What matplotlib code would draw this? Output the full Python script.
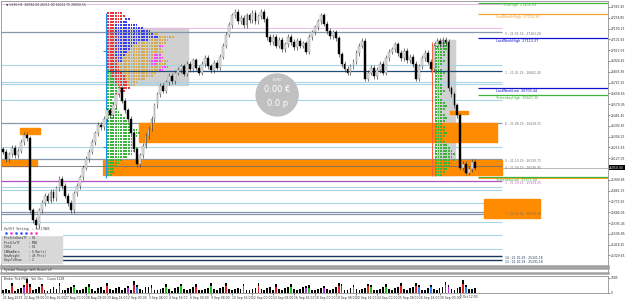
import numpy as np
import matplotlib.pyplot as plt
from matplotlib.patches import Rectangle, Ellipse

# US30 H4 closes, 21 Aug - 2 Oct 2019
first_open = 26200
closes = [
    26180, 26120, 26160, 26210, 26150, 26190, 26260, 26320, 26290, 25700,
    25620, 25580, 25700, 25760, 25820, 25780, 25850, 25800, 25880, 25960,
    25900, 25820, 25760, 25700, 25840, 25900, 25970, 26050, 26120, 26180,
    26260, 26330, 26400, 26380, 26450, 26520, 26480, 26560, 26650, 26700,
    26600, 26520, 26450, 26330, 26200, 26080, 26150, 26230, 26310, 26370,
    26450, 26560, 26650, 26720, 26680, 26750, 26800, 26760, 26830, 26850,
    26880, 26820, 26900, 26860, 26930, 26870, 26830, 26900, 26950, 26880,
    26850, 26910, 26870, 26960, 27050, 27140, 27220, 27300, 27330, 27250,
    27280, 27220, 27300, 27260, 27320, 27250, 27290, 27330, 27270, 27120,
    27080, 27120, 27050, 27100, 27020, 27060, 27120, 27080, 27040, 27090,
    27050, 27070, 27000, 27120, 27160, 27200, 27250, 27300, 27230, 27170,
    27130, 27160, 27110, 26980, 26900, 26860, 26830, 26880, 26920, 26990,
    27050, 27090, 26780, 26830, 26870, 26800, 26850, 26900, 26830, 26950,
    27000, 27020, 27060, 26990, 26950, 27010, 26930, 26960, 26900, 26780,
    26880, 26950, 26990, 26920, 26860, 27050, 27090, 27060, 27100, 27080,
    26700, 26650, 26560, 26480, 26050, 26080, 26010, 26040, 26100, 26050,
]

volumes = [
    350, 500, 300, 1100, 250, 420, 600, 900, 1550, 1000,
    300, 450, 700, 1050, 380, 260, 500, 650, 420, 1150,
    320, 280, 550, 700, 950, 350, 300, 480, 640, 1000,
    400, 250, 560, 720, 380, 1100, 420, 300, 520, 680,
    350, 600, 750, 300, 1300, 900, 450, 280, 620, 700,
    850, 380, 300, 450, 600, 1000, 420, 270, 560, 650,
    1050, 400, 320, 500, 620, 1000, 380, 290, 470, 580,
    1100, 420, 300, 520, 640, 1080, 400, 280, 500, 610,
    480, 1050, 360, 300, 450, 600, 1100, 430, 290, 520,
    620, 380, 1000, 420, 300, 540, 660, 980, 400, 280,
    500, 620, 800, 850, 360, 290, 480, 600, 750, 420,
    310, 500, 640, 1100, 1050, 380, 300, 520, 950, 430,
    290, 480, 600, 1050, 900, 350, 280, 500, 620, 1000,
    400, 300, 520, 680, 1100, 420, 310, 560, 700, 1150,
    950, 380, 320, 540, 900, 450, 300, 560, 700, 1200,
    900, 420, 330, 560, 720, 1500, 950, 420, 500, 560,
]
vol_color_idx = [3, 7, 8, 9, 13, 19, 24, 29, 35, 42, 44, 45, 50, 55, 60, 65, 70, 75,
                 81, 86, 92, 97, 102, 103, 108, 113, 114, 118, 123, 124, 129, 134,
                 139, 140, 144, 149, 150, 155, 156]
vol_color_code = "rmrrrrggrmrbmggrgrgrrgmgmrrgrggrrbbrmrb"

# tick at 26038.45 sits under the current-price box, so it is not shown
price_ticks = [27367.45, 27278.85, 27190.25, 27101.65, 27013.05, 26924.45, 26835.85,
               26747.25, 26658.65, 26570.05, 26481.45, 26392.85, 26304.25, 26215.65,
               26127.05, 25949.85, 25861.25, 25772.65, 25684.05, 25595.45,
               25506.85, 25418.25, 25329.65]
time_labels = ["21 Aug 2019", "22 Aug 08:00", "23 Aug 16:00", "27 Aug 00:00", "28 Aug 08:00",
               "29 Aug 16:00", "2 Sep 00:00", "3 Sep 08:00", "4 Sep 16:00", "6 Sep 00:00",
               "9 Sep 08:00", "10 Sep 16:00", "12 Sep 00:00", "13 Sep 08:00", "16 Sep 16:00",
               "18 Sep 00:00", "19 Sep 08:00", "20 Sep 16:00", "24 Sep 00:00", "25 Sep 08:00",
               "26 Sep 16:00", "30 Sep 00:00", "2 Oct 12:00"]

# key levels
key_names = ["YearHigh", "LastMonthHigh", "LastWeekHigh", "LastWeekLow", "YesterdayHigh", "YesterdayLow"]
key_values = [27404.09, 27310.26, 27113.37, 26703.44, 26647.35, 25971.68]
key_colors = ["#3cb43c", "#f0a030", "#1010d0", "#1010d0", "#3cb43c", "#3cb43c"]

lightblue_levels = [26892, 26752, 26736, 26605, 26219, 25891, 25867, 25760, 25604, 25498, 25383]
steel_levels = [27162, 26420, 26121, 25686, 25670]
navy_levels = [25325, 25293]
zone_labels = ["3 : 21.05.19 : 27163.28", "1 : 21.01.19 : 26842.40", "6 : 21.08.19 : 26418.33",
               "5 : 21.10.19 : 26130.72", "4 : 21.09.19 : 26096.85", "2 : 21.09.19 : 25929.05",
               "7 : 21.10.19 : 25678.45", "14 : 21.10.19 : 25321.18", "13 : 21.10.19 : 25291.18"]
zone_prices = [27162, 26842, 26420, 26121, 26063, 25940, 25680, 25325, 25290]
zone_colors = ["#707070", "#707070", "#707070", "#707070", "#707070", "#c060c0", "#707070",
               "#17375e", "#17375e"]

# supply / demand boxes: (x0, x1, low, high)
box_x0 = [5.7, -0.7, 45.8, 33.7, 150.5, 162.0]
box_x1 = [12.5, 11.4, 166.3, 168.0, 156.6, 180.8]
box_lo = [26326, 26063, 26260, 25990, 26490, 25637]
box_hi = [26375, 26113, 26416, 26113, 26514, 25793]

# TPO market profile rows (top row first), letters coloured by period
tpo_left = [
    "rrrrrr", "rrrrrrr", "rrrrrr.bb", "rrrrrbbb", "rrrbbbbbbbbb", "rrrbbbbbbbbbbb",
    "rrrbbbbbbbbbbbbbb", "rrrbbbbbbbbbbbbbbbyy", "rrrrbbbbbbbbbbbbbbbbyyyyyy",
    "rrrbbbbbbbbbbbbbyyyyyyyy", "rrrrbbbbbbbbyyyyyyyyyyy", "rrrbbbbbbbyyyyyyyyyymm",
    "rrrrbbbbbyyyyyyyyyyyy", "rrrbbbbbyyyyyyyyyyyyyy", "rrrbbbbyyyyyyyyyyymmm",
    "rrrrbbyyyyyyyyyyyymmmm", "rrrrbbyyyyyyyyyymmmmmyyy", "rrrryyyyyyyyyyyyymmyyyy",
    "rrrrryyyyyyyyyyyyyyyymmm", "grrrryyyyyyyyyyyyyyymm", "ggrrrryyyyyyyyyyyyy",
    "ggrrrrryyyyyyyyyyy", "gggrrrryyyyyyyy", "gggrrrrryyyy", "ggggrrrryyy", "gggggrrrr",
    "ggggrrr", "gggrr", "ggg", "gg", "ggg", "ggg", "gggg", "ggggg", "gggggg", "ggggggg",
    "gggggggg", "ggggggggg", "gggggggggg", "gggggggggggg", "ggggggggggggg",
    "gggggggggggg", "ggggggggggg", "gggggggggg", "ggggggggggg", "gggggggggggg",
    "ggggggggggg", "gggggggggg", "gggggggg", "gggggg", "ggggg", "gggg", "ggg", "ggg", "gg",
]
tpo_right = [
    "gggggg", "gggggg", "ggggg", "gggg", "gggg",
    "ggg", "gggg", "ggg", "gg", "ggg", "gggg", "ggg", "ggg", "gg", "ggg", "ggg", "gggg",
    "ggg", "gg", "ggg",
    "gggg", "ggggg", "gggg", "ggg", "gggg", "ggggg", "gggg", "ggg", "gggg", "gggg",
    "ggggg", "gggg", "ggg", "gggg", "ggggg",
    "gggggg", "ggggggg", "gggggggg", "ggggggg", "gggggggg", "ggggggg", "gggggg",
    "ggggg", "gggg", "ggg",
]
tpo_colors = {"r": "#e8373a", "b": "#3c3cf0", "y": "#d4aa50", "m": "#ff40ff", "g": "#3cb43c"}

info_rows = ["ProfileDataTF : H1", "ProfileTF     : MN1", "ISO4          : D1",
             "IBNumBars     : 6 Bar(s)", "RowHeight     : 45 Pt(s)", "DaysToShow    : 2"]

# ---------------------------------------------------------------
W, H = 625, 301
fig = plt.figure(figsize=(W / 100, H / 100), dpi=100)
fig.patch.set_facecolor("white")
XLIM = (-0.673, 203.7)
YLIM = (25243.4, 27416.4)
FS = 2.2

ax = fig.add_axes([1 / W, 35 / H, 607 / W, 265 / H])
ax_mid = fig.add_axes([1 / W, 28 / H, 607 / W, 5 / H])
ax_vol = fig.add_axes([1 / W, 8 / H, 607 / W, 17 / H])
for a in (ax, ax_mid, ax_vol):
    a.set_xlim(*XLIM)
    for s in a.spines.values():
        s.set_color("#909090")
        s.set_linewidth(0.6)
    a.set_xticks([])
ax.set_ylim(*YLIM)

# gray value-area shades
ax.add_patch(Rectangle((35.0, 26728), 27.3, 467, color="#d0d0d0", zorder=1))
ax.add_patch(Rectangle((146.1, 25990), 6.1, 1107, color="#d0d0d0", zorder=1))

# horizontal zone lines
ax.hlines(lightblue_levels, XLIM[0], 168, color="#a8d4e6", lw=0.8, zorder=2)
ax.hlines(steel_levels, XLIM[0], 168, color="#8597ad", lw=0.9, zorder=2)
ax.hlines(navy_levels, XLIM[0], 168, color="#17375e", lw=1.0, zorder=2)
ax.hlines(27392, XLIM[0], 168, color="#e8b8e8", lw=0.7, zorder=2)
ax.hlines(27195, 44.4, 168, color="#e8b8e8", lw=0.7, zorder=2)
ax.hlines(26842, 35.0, 168, color="#1f4e79", lw=0.9, zorder=2)
ax.hlines(25940, XLIM[0], 168, color="#b050c0", lw=0.9, zorder=2)
ax.hlines(26063, XLIM[0], 168, color="#707070", lw=0.6, zorder=4)
for lab, p, c in zip(zone_labels, zone_prices, zone_colors):
    ax.text(169, p - 14, lab, fontsize=FS, color=c, va="center", ha="left", zorder=6)

# orange boxes
for x0, x1, lo, hi in zip(box_x0, box_x1, box_lo, box_hi):
    ax.add_patch(Rectangle((x0, lo), x1 - x0, hi - lo, color="#ff8c00", zorder=3))

# key levels on the right
for name, v, c in zip(key_names, key_values, key_colors):
    ax.hlines(v, 160.0, XLIM[1], color=c, lw=0.9, zorder=5)
    ax.text(166 if name != "YearHigh" else 168.5, v - 6, f"{name}  {v:.2f}",
            fontsize=2.4, color=c, va="top", ha="left", zorder=6)
ax.hlines(key_values[-1] - 6, 160.0, XLIM[1], color="#ff8c00", lw=0.6, zorder=5)

# vertical profile markers
ax.vlines(34.7, 25965, 27318, color="#2090f0", lw=0.8, zorder=5)
ax.hlines([27004, 26220], 33.8, 34.7, color="#2090f0", lw=0.8, zorder=5)
ax.vlines(144.4, 25981, 27080, color="#ff6030", lw=0.7, zorder=5)
ax.vlines(145.5, 25981, 27080, color="#3cb43c", lw=0.7, ls=(0, (1, 1)), zorder=5)

# TPO letters
def draw_tpo(rows, x0, top):
    xs, ys, cs = [], [], []
    for r, row in enumerate(rows):
        for c, ch in enumerate(row):
            if ch in tpo_colors:
                xs.append(x0 + c * 0.87)
                ys.append(top - r * 24.6)
                cs.append(tpo_colors[ch])
    ax.scatter(xs, ys, s=1.6, c=cs, marker="s", linewidths=0, zorder=6)

draw_tpo(tpo_left, 35.4, 27318)
draw_tpo(tpo_right, 145.8, 27072)

# candles
closes_a = np.array(closes, dtype=float)
opens_a = np.concatenate([[first_open], closes_a[:-1]])
idx = np.arange(len(closes_a))
body_lo = np.minimum(opens_a, closes_a)
body_hi = np.maximum(opens_a, closes_a)
bull = closes_a >= opens_a
ax.vlines(idx, body_lo - 22, body_hi + 22, color="#404040", lw=0.5, zorder=7)
ax.bar(idx[bull], np.maximum(body_hi - body_lo, 6)[bull], bottom=body_lo[bull], width=0.62,
       color="#e4e4e4", edgecolor="#808080", lw=0.3, zorder=8)
ax.bar(idx[~bull], np.maximum(body_hi - body_lo, 6)[~bull], bottom=body_lo[~bull], width=0.62,
       color="black", edgecolor="black", lw=0.3, zorder=8)

# current price
last = closes[-1]
ax.hlines(last, 168, XLIM[1], color="#b0b0b0", lw=0.6, zorder=5)
ax.text(1.002, last, f"{last:.2f}", transform=ax.get_yaxis_transform(), fontsize=FS,
        color="white", va="center", ha="left",
        bbox=dict(boxstyle="square,pad=0.15", fc="black", ec="none"), zorder=10)

# profit circle
ax.add_patch(Ellipse((92.3, 26646), 14.14, 344.4, color="#c0c0c0", zorder=9))
ax.text(92.3, 26765, "EURO", fontsize=2.4, color="white", ha="center", va="center", zorder=10)
ax.text(92.3, 26690, "0.00 €", fontsize=6, color="white", ha="center", va="center", zorder=10)
ax.text(92.3, 26575, "0.0 p", fontsize=6, color="white", ha="center", va="center", zorder=10)

# info box, bottom-left
ax.add_patch(Rectangle((XLIM[0], 25268), 20.5, 260, color="#d8d8d8", zorder=9))
ax.add_patch(Rectangle((XLIM[0], 25500), 20.5, 30, color="white", zorder=9))
ax.text(0.3, 25545, "On/Off Setting  : Sell/NUS", fontsize=FS, family="DejaVu Sans Mono",
        color="#303030", va="center", zorder=10)
for k, col in enumerate(["#3050ff", "#ff30c0", "#3050ff", "#3050ff", "#3050ff", "#ff30c0", "#ff30c0"]):
    ax.scatter(1.0 + k * 1.7, 25515, s=3.5, color=col, zorder=10, linewidths=0)
for k, row in enumerate(info_rows):
    ax.text(0.3, 25470 - k * 36, row, fontsize=FS, family="DejaVu Sans Mono",
            color="#303030", va="center", zorder=10)

# right price axis
ax.yaxis.tick_right()
ax.set_yticks(price_ticks)
ax.set_yticklabels([f"{p:.2f}" for p in price_ticks])
ax.tick_params(axis="y", labelsize=FS, length=1.2, width=0.4, pad=0.6,
               colors="#303030")
ax.spines["bottom"].set_linewidth(1.8)
ax.spines["bottom"].set_color("#a0a0a0")

# title
fig.text(6 / W, 1 - 4.5 / H, "\u25bc US30,H4  26094.00 26111.00 26012.75 26050.55",
         fontsize=FS, color="#303030", va="center", ha="left")

# middle indicator strip
ax_mid.set_yticks([])
ax_mid.set_ylim(0, 1)
ax_mid.text(0.5, 0.5, "Symbol Change (with Bears) x3", fontsize=FS, color="#303030", va="center")
ax_mid.spines["bottom"].set_linewidth(1.8)
ax_mid.spines["bottom"].set_color("#a0a0a0")
ax_mid.spines["top"].set_linewidth(1.8)
ax_mid.spines["top"].set_color("#a0a0a0")

# volume panel
vol_a = np.array(volumes, dtype=float)
vcols = {"r": "#e02020", "g": "#20c020", "b": "#3080f0", "m": "#b030e0"}
ax_vol.bar(idx, vol_a, width=0.6, color="black", zorder=2)
cidx = np.array(vol_color_idx)
ax_vol.bar(cidx, vol_a[cidx] * 0.7, width=0.6, color=[vcols[c] for c in vol_color_code], zorder=3)
ax_vol.set_ylim(0, 1900)
ax_vol.yaxis.tick_right()
ax_vol.set_yticks([0, 1685])
ax_vol.set_yticklabels(["0", "1685"])
ax_vol.tick_params(axis="y", labelsize=FS, length=1.2, width=0.4, pad=0.6, colors="#303030")
ax_vol.text(0.5, 1750, "Broker Tick FVIH   Vol. Osc.   Count 1128", fontsize=FS,
            color="#303030", va="top")
ax_vol.set_xticks(np.arange(len(time_labels)) * 7)
ax_vol.set_xticklabels(time_labels)
ax_vol.tick_params(axis="x", labelsize=FS, length=1.2, width=0.4, pad=0.6, colors="#303030")
for t in ax_vol.get_xticklabels():
    t.set_horizontalalignment("left")

fig.savefig("out.png", dpi=100)
